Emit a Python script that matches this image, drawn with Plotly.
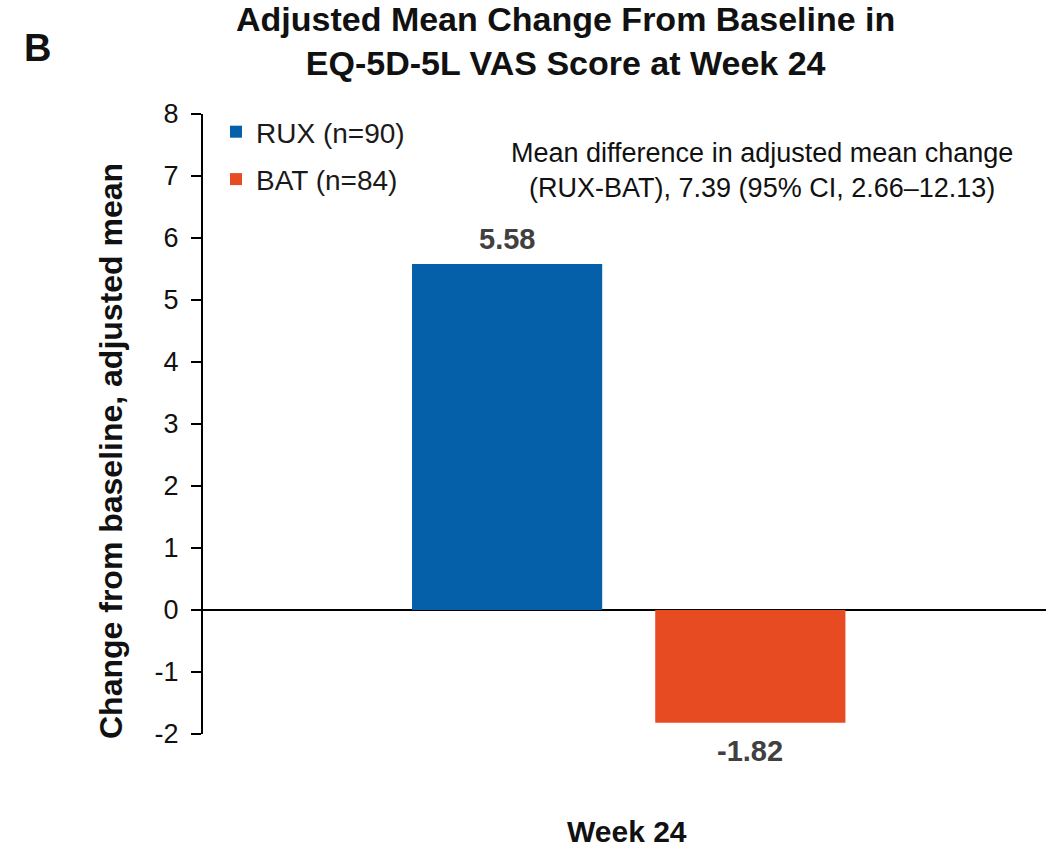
import plotly.graph_objects as go

# Adjusted mean change from baseline in EQ-5D-5L VAS score, week 24
categories = ["Week 24"]
groups = ["RUX (n=90)", "BAT (n=84)"]
values = [5.58, -1.82]
colors = ["#0660A9", "#E64B22"]
y_ticks = [-2, -1, 0, 1, 2, 3, 4, 5, 6, 7, 8]

FONT = "Liberation Sans, Arial, sans-serif"

# plot area in pixels: left 203, right 1046, top 114, bottom 734
L, R, T, B = 203, 1046, 114, 734


def px_x(x):
    return (x - L) / (R - L)


def px_y(y):
    return (B - y) / (B - T)


fig = go.Figure()
for i, (name, val, col) in enumerate(zip(groups, values, colors)):
    fig.add_trace(go.Bar(
        x=[0], y=[val], name=name, marker=dict(color=col, line=dict(width=0)),
        legendgroup=f"g{i}", hoverinfo="skip",
    ))

fig.update_layout(
    width=1046, height=848,
    margin=dict(l=L, r=1046 - R, t=T, b=848 - B),
    paper_bgcolor="white", plot_bgcolor="white",
    barmode="group", bargap=0.423, bargroupgap=0.218,
    showlegend=True,
    legend=dict(
        x=px_x(216), y=px_y(107), xanchor="left", yanchor="top",
        font=dict(family=FONT, size=28, color="#1a1a1a"),
        tracegroupgap=8, itemwidth=30, bgcolor="rgba(0,0,0,0)",
    ),
    font=dict(family=FONT),
)

fig.update_xaxes(
    range=[-0.505, 0.495], showticklabels=False, showline=False,
    showgrid=False, zeroline=False, ticks="",
)
fig.update_yaxes(
    range=[-2, 8], tickvals=y_ticks, ticktext=[str(v) for v in y_ticks],
    showline=True, linecolor="black", linewidth=2,
    ticks="outside", ticklen=10, tickwidth=2, tickcolor="black",
    tickfont=dict(family=FONT, size=27, color="#111111"),
    ticklabelstandoff=7,
    showgrid=False, zeroline=True, zerolinecolor="black", zerolinewidth=2,
)

# Bar value labels
offsets = [-0.25 * 0.577, 0.25 * 0.577]
for val, dx in zip(values, offsets):
    fig.add_annotation(
        x=dx, y=val, xref="x", yref="y", text=f"<b>{val:.2f}</b>",
        showarrow=False, yshift=25 if val > 0 else -28,
        xanchor="center", yanchor="middle",
        font=dict(family=FONT, size=29, color="#404040"),
    )

texts = [
    dict(x=111, y=451, text="<b>Change from baseline, adjusted mean</b>",
         textangle=-90, size=32),
    dict(x=627, y=832, text="<b>Week 24</b>", size=30),
    dict(x=762, y=170,
         text="Mean difference in adjusted mean change<br>(RUX-BAT), 7.39 (95% CI, 2.66–12.13)",
         size=27),
    dict(x=565, y=41,
         text="<b>Adjusted Mean Change From Baseline in<br>EQ-5D-5L VAS Score at Week 24</b>",
         size=34),
    dict(x=37, y=48, text="<b>B</b>", size=38),
]
for a in texts:
    fig.add_annotation(
        x=px_x(a["x"]), y=px_y(a["y"]), xref="paper", yref="paper", text=a["text"],
        textangle=a.get("textangle", 0), showarrow=False,
        xanchor="center", yanchor="middle",
        font=dict(family=FONT, size=a["size"], color="#111111"),
    )

fig.write_html("out.html")
